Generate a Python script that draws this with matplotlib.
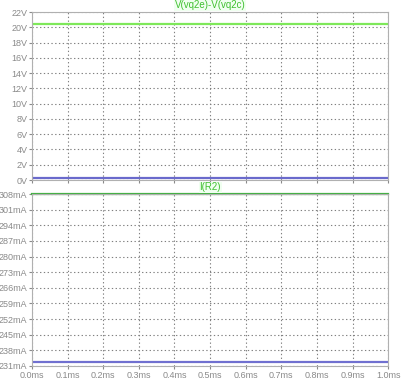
import matplotlib
matplotlib.use("Agg")
import matplotlib.pyplot as plt

# time axis (ms) and trace values
t_ms = [0.0, 1.0]
v_diff = [20.4, 20.4]      # V(vq2e)-V(vq2c), green
v_low = [0.2, 0.2]         # blue trace, top pane
i_r2 = [308.0, 308.0]      # I(R2) mA, green
i_low = [232.6, 232.6]     # blue trace, bottom pane

v_ticks = list(range(0, 23, 2))
i_ticks = [231, 238, 245, 252, 259, 266, 273, 280, 287, 294, 301, 308]
x_ticks = [i / 10 for i in range(11)]

plt.rcParams['font.family'] = ['Liberation Sans', 'DejaVu Sans']
fig = plt.figure(figsize=(4.02, 3.83), dpi=100)
ax1 = fig.add_axes([0.0796, 0.530, 0.886, 0.4386])
ax2 = fig.add_axes([0.0796, 0.0444, 0.886, 0.449])

grey = '#8a8a8a'
for ax in (ax1, ax2):
    ax.set_xlim(0, 1.0)
    ax.set_xticks(x_ticks)
    ax.grid(True, color='#808080', linestyle=(0, (1.2, 2.2)), linewidth=0.8)
    for s in ax.spines.values():
        s.set_color('#b0b0b0')
        s.set_linewidth(0.8)
    ax.tick_params(colors=grey, labelcolor=grey, labelsize=6.5, length=2.5, width=0.8, pad=0.8)

ax1.plot(t_ms, v_diff, color='#7ee85a', linewidth=1.6)
ax1.plot(t_ms, v_low, color='#6a6acc', linewidth=1.6)
ax1.set_ylim(0, 22)
ax1.set_yticks(v_ticks)
ax1.set_yticklabels([f"{v}V" for v in v_ticks])
ax1.tick_params(axis='x', labelbottom=False)
ax1.text(0.5, 1.01, "V(vq2e)-V(vq2c)", transform=ax1.transAxes, ha='center', va='bottom',
         color='#40c030', fontsize=7, bbox=dict(facecolor='#f0fff0', edgecolor='none', pad=0.5))

ax2.plot(t_ms, i_r2, color='#40b040', linewidth=1.6, clip_on=False)
ax2.plot(t_ms, i_low, color='#7070d0', linewidth=1.6)
ax2.set_ylim(231, 308)
ax2.set_yticks(i_ticks)
ax2.set_yticklabels([f"{v}mA" for v in i_ticks])
ax2.set_xticklabels([f"{x:.1f}ms" for x in x_ticks])
ax2.text(0.5, 1.01, "I(R2)", transform=ax2.transAxes, ha='center', va='bottom',
         color='#40c030', fontsize=7, bbox=dict(facecolor='#f0fff0', edgecolor='none', pad=0.5))

fig.savefig("out.png", dpi=100)
